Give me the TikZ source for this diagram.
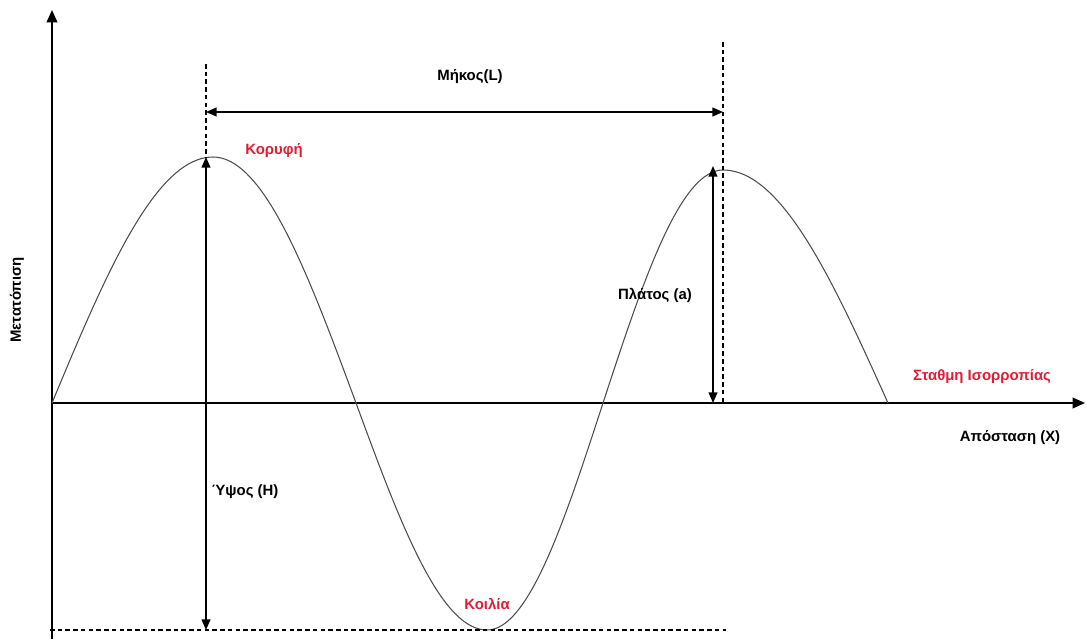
\documentclass[tikz,border=0pt]{standalone}
\usepackage{fontspec}
\setmainfont{Liberation Sans}
\usetikzlibrary{arrows.meta}
\definecolor{labelred}{RGB}{222,30,52}
\tikzset{
    lbl/.style={font=\fontsize{8.5}{10}\selectfont\bfseries, inner sep=1pt},
    redlbl/.style={lbl, text=labelred},
    axis/.style={line width=1.1pt, -{Triangle[length=7pt,width=6pt]}},
    measure/.style={line width=0.8pt, {Triangle[length=6pt,width=5pt]}-{Triangle[length=6pt,width=5pt]}},
    guide/.style={line width=0.6pt, dash pattern=on 2.6pt off 1.8pt},
    wave/.style={line width=0.6pt, black!70}
}
\begin{document}
\begin{tikzpicture}[x=0.02cm,y=-0.02cm]
    \useasboundingbox (0,0) rectangle (1087,639);
    % Coordinate
    \coordinate (O) at (52,403);
    \coordinate (Ytop) at (52,10);
    \coordinate (Ybot) at (52,639);
    \coordinate (Xend) at (1085,403);
    \coordinate (crest) at (206,157);
    \coordinate (crestdash) at (206,64);
    \coordinate (bottom) at (206,630);
    \coordinate (L1) at (206,112);
    \coordinate (L2) at (723,112);
    \coordinate (crest2dash) at (723,42);
    \coordinate (crest2base) at (723,403);
    \coordinate (Atop) at (713,166);
    \coordinate (Abot) at (713,403);
    \coordinate (lowleft) at (50,630);
    \coordinate (lowright) at (726,630);
    % Assi
    \draw [line width=1.1pt] (Ybot) -- (O);
    \draw [axis] (O) -- (Ytop); % asse y
    \draw [axis] (O) -- (Xend); % asse x
    % Onda
    \draw [wave] plot[domain=0:90, samples=40] ({52+161*\x/90}, {403-246*sin(\x)});
    \draw [wave] plot[domain=90:180, samples=40] ({213+143*(\x-90)/90}, {403-246*sin(\x)});
    \draw [wave] plot[domain=180:270, samples=40] ({356+131*(\x-180)/90}, {403-227*sin(\x)});
    \draw [wave] plot[domain=270:360, samples=40] ({487+116*(\x-270)/90}, {403-227*sin(\x)});
    \draw [wave] plot[domain=0:90, samples=40] ({603+120*\x/90}, {403-233*sin(\x)});
    \draw [wave] plot[domain=90:180, samples=40] ({723+165*(\x-90)/90}, {403-233*sin(\x)});
    % Linee tratteggiate
    \draw [guide] (crestdash) -- (crest);
    \draw [guide] (crest2dash) -- (crest2base);
    \draw [guide] (lowleft) -- (lowright);
    % Misure
    \draw [measure] (L1) -- (L2);
    \draw [measure] (crest) -- (bottom);
    \draw [measure] (Atop) -- (Abot);
    % Etichette
    \node [lbl] (length) at (470,77) {Μήκος(L)};
    \node [redlbl] (crestlbl) at (274,151) {Κορυφή};
    \node [lbl] (amplitude) at (655,295) {Πλ\char"03AC τος (a)};
    \node [redlbl] (equilibrium) at (982,377) {Σταθμη Ισορροπίας};
    \node [lbl] (distance) at (1010,438) {Απόσταση (X)};
    \node [lbl] (height) at (245,492) {Ύψος (H)};
    \node [redlbl] (troughlbl) at (487,604) {Κοιλία};
    \node [lbl, rotate=90] (displacement) at (17,300) {Μετατόπιση};
\end{tikzpicture}
\end{document}
